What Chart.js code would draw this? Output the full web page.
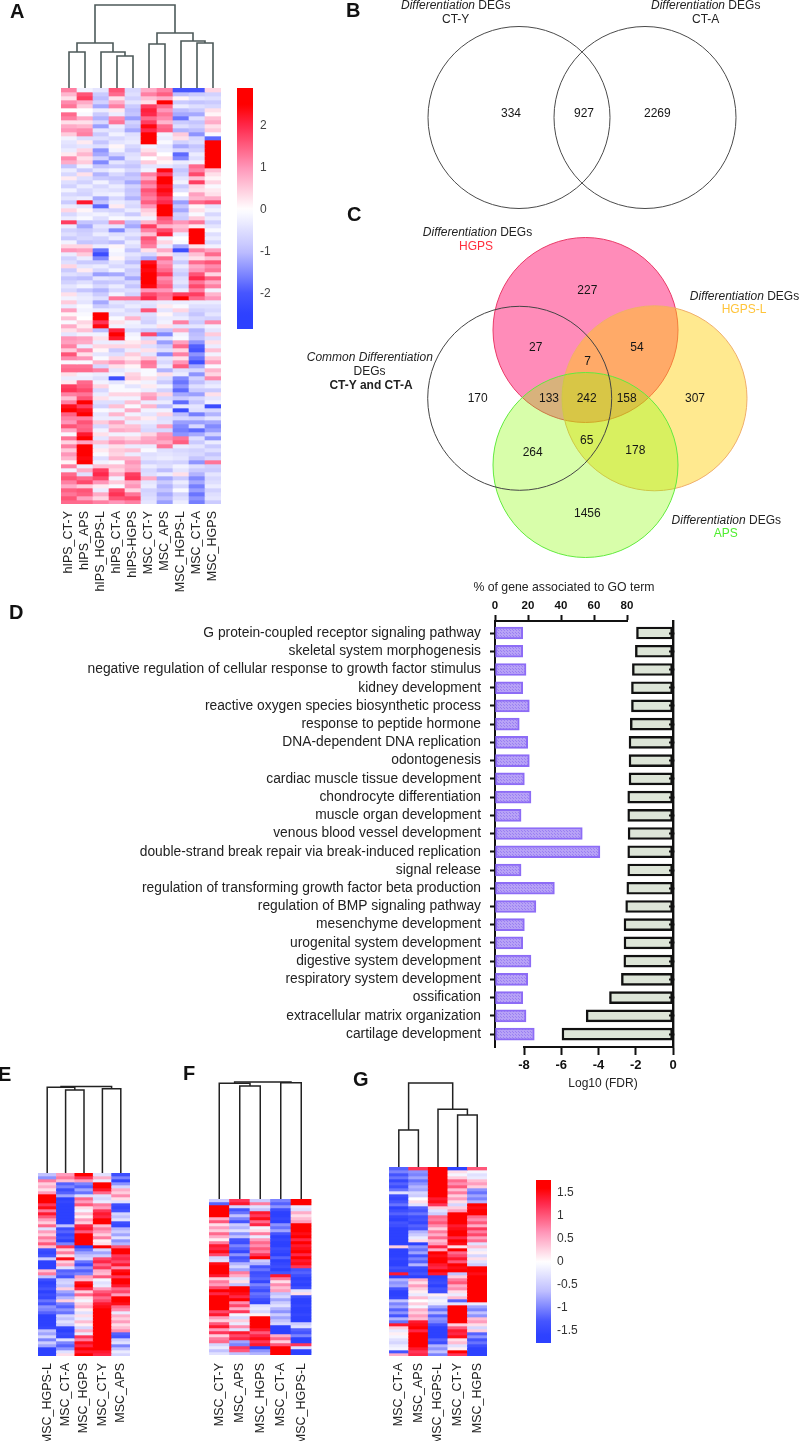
<!DOCTYPE html>
<html>
<head>
<meta charset="utf-8">
<title>Differentiation DEGs figure</title>
<script src="https://cdn.jsdelivr.net/npm/chart.js@4"></script>
<style>
  html, body { margin: 0; padding: 0; background: #fff; }
  #page { position: relative; width: 800px; height: 1441px; overflow: hidden; font-family: "Liberation Sans", Arial, sans-serif; }
  #page canvas { position: absolute; left: 0; top: 0; }
  .note { position: absolute; transform: translate(-50%, -50%); white-space: nowrap; line-height: 1; font-size: 12px; color: #222; z-index: 5; }
  .panel { position: absolute; font-weight: bold; font-size: 20px; line-height: 1; color: #111; z-index: 5; }
</style>
</head>
<body>
<div id="page"></div>
<script>
'use strict';

//****************************************
//          DATA: HEATMAP A (value x 10)
//****************************************

const labelsA = ['hIPS_CT-Y', 'hIPS_APS', 'hIPS_HGPS-L', 'hIPS_CT-A', 'hIPS-HGPS', 'MSC_CT-Y', 'MSC_APS', 'MSC_HGPS-L', 'MSC_CT-A', 'MSC_HGPS'];

const a_hIPS_CTY = [
  12,7,3,11,13,0,14,12,3,8,10,5,-2,
  -4,-5,-3,2,11,8,-9,-3,-6,2,-5,-7,-2,
  -6,-4,-8,-3,4,-6,-3,18,-3,-7,-5,-8,-2,
  4,10,-3,-7,-5,4,-8,-5,-9,-7,-4,-6,3,
  -2,5,-3,9,1,6,-1,8,3,-4,10,9,12,
  5,16,11,-1,13,14,3,-3,2,18,19,12,6,
  12,23,26,15,12,10,16,8,-1,13,4,12,5,
  10,7,1,12,-2,14,16,12,8,15,13,16,14];
const a_hIPS_APS = [
  -2,16,18,8,5,0,-1,8,3,7,11,12,-5,
  2,-4,4,7,3,5,-2,-8,3,-5,-7,-3,-6,
  -7,-3,22,-4,1,-3,-1,-9,-12,-8,-7,-6,-9,
  4,9,5,-3,-8,-4,2,-6,-10,-5,-2,-9,-4,
  -3,-4,-1,-2,-1,0,4,2,6,-2,9,8,-3,
  11,3,10,-1,13,14,-2,-3,14,15,17,13,16,
  27,18,23,26,12,16,14,15,22,25,9,26,28,
  26,24,27,-3,8,-5,14,17,5,16,15,9,14];
const a_hIPS_HGPSL = [
  -4,-8,-10,-7,-12,-3,-8,-11,-6,-13,-4,-8,-5,
  -9,-5,-14,-12,-7,-15,-9,-4,-11,-8,-2,-6,-4,
  -3,-12,-9,-18,-6,-2,-5,-8,-4,-6,-3,-7,-8,
  -3,-17,-22,-15,-8,-3,-6,-13,-4,-9,-6,-11,-8,
  -5,-12,-8,-3,29,29,19,24,-10,-2,3,-3,4,
  1,-4,-1,7,-6,12,-3,-5,-2,4,-6,-3,3,
  -5,-7,-1,-4,-3,5,-6,-2,3,-4,6,-3,2,
  -1,-5,-2,6,18,20,17,10,2,-3,8,4,12];
const a_hIPS_CTA = [
  16,14,3,8,12,2,-3,11,13,-3,-5,-2,-6,
  -4,1,-2,-7,-13,-4,-8,-2,-6,-9,-7,-3,-5,
  -2,-6,-3,2,-7,-4,-1,12,-4,-15,-5,-3,-10,
  1,-1,-2,1,-4,-6,-2,-12,-5,-8,-3,-6,-2,
  13,-4,-6,-3,-5,-1,3,-2,21,25,22,-3,4,
  -8,-5,4,10,3,-4,-2,-22,-4,-1,-1,4,-2,
  -5,6,-2,7,-3,9,5,8,-2,6,10,3,5,
  4,7,-1,6,4,8,-2,5,-1,17,19,16,10];
const a_hIPS_HGPS = [
  -6,-5,-7,-4,-8,-10,-9,-13,-7,-9,-12,-5,-4,
  -3,-6,-8,-5,-4,-7,-9,-6,-10,-8,-12,-7,-9,
  -8,-11,-5,-6,-3,-8,-2,-10,-12,-6,-4,-7,-3,
  -5,-9,-4,-6,-10,-5,-8,-7,-12,-6,-9,-5,-7,
  13,-5,-3,-6,-4,7,-2,-3,-6,-2,-1,2,4,
  -3,5,2,6,1,-2,4,5,1,-4,-1,4,-2,
  6,-1,8,-2,5,-3,6,7,-2,4,8,-3,6,
  -3,7,10,8,9,18,19,8,10,4,13,17,12];
const a_MSC_CTY = [
  8,12,6,3,18,21,20,14,18,24,20,26,28,
  29,-2,3,6,0,5,-4,-2,12,8,14,11,16,
  14,12,15,10,5,3,-2,7,18,12,6,16,14,
  12,3,-6,-12,23,26,24,25,28,27,24,10,17,
  20,-4,-5,16,-5,-6,-7,-3,-8,17,-6,4,-5,
  3,-4,6,13,12,-1,-1,3,-2,2,-3,8,10,
  -3,7,-2,-4,2,-3,-5,-6,4,8,9,-3,-1,
  -5,-4,-7,-3,-6,-5,8,-4,-3,-7,-6,-5,-4];
const a_MSC_APS = [
  12,15,8,25,14,10,13,11,7,14,15,-2,-3,
  -1,-4,-3,0,3,1,-4,24,18,25,26,22,24,
  22,18,20,29,29,29,16,14,7,17,21,-2,4,
  -3,8,3,14,10,12,14,18,11,13,15,10,14,
  13,-3,2,-4,1,-3,-2,3,-9,-15,-4,-13,-8,
  -5,-15,-4,-6,-3,-11,3,-5,-8,-2,-7,4,-6,
  -3,-10,-2,4,-5,-4,9,-6,10,11,8,13,-5,
  -4,-3,-6,-5,-10,-3,-12,-8,-11,-9,-12,-10,-13];
const a_MSC_HGPSL = [
  -20,-10,1,-8,-3,-10,-12,-17,-8,-5,-11,5,3,
  -7,-12,-6,-18,-15,-3,-6,-9,-7,-4,-2,-8,-5,
  0,-5,-13,-9,-12,-7,-8,10,6,8,-3,0,-1,
  -12,-22,-6,-4,-8,-3,-6,-8,-5,-4,-7,-3,18,
  25,-3,-1,4,-5,-3,12,-4,8,-2,-1,9,14,
  4,12,3,10,15,-5,-3,-15,-17,-14,-18,-12,-8,
  -18,-4,-22,-10,-6,-13,-15,-16,-14,13,15,-3,-6,
  -5,-4,-7,-2,-4,3,-8,-3,-6,-1,-7,-5,-3];
const a_MSC_CTA = [
  -20,-8,-4,-9,-5,-8,-12,-5,-9,-7,-10,-14,-6,
  -5,-9,-7,-3,-5,-2,14,12,17,6,18,4,3,
  9,7,14,1,3,-1,5,13,2,29,29,29,29,
  3,12,6,3,14,8,10,16,20,13,17,12,18,
  14,-3,-5,-7,-9,-6,-8,-4,-11,-10,-9,-14,-19,
  -20,-14,-17,-21,-12,-6,-14,-7,-10,-5,-8,-13,-6,
  -9,-4,-5,-16,-7,-13,-6,-18,-12,-5,-8,-4,-7,
  -6,-9,-14,-5,-8,-11,-15,-12,-16,-13,-17,-14,-16];
const a_MSC_HGPS = [
  4,-7,-5,-8,-6,3,1,6,8,3,5,-1,-18,
  29,29,28,29,27,29,28,6,3,1,4,-1,2,
  3,8,16,-4,-2,-6,-3,-7,-4,-1,-5,-3,-6,
  -2,9,14,6,16,11,13,4,15,8,12,-2,7,
  10,-3,-5,-6,-4,-7,11,-2,-4,5,-5,3,-3,
  6,-2,5,9,-1,7,4,11,-5,-3,-8,3,-4,
  -2,-22,-6,-11,-4,-12,-15,-13,-7,-14,-3,-8,-5,
  -9,-6,13,-7,-8,-4,-6,-5,-3,-7,-5,-4,-8];

//****************************************
//          DATA: HEATMAP E
//****************************************

const labelsE = ['MSC_HGPS-L', 'MSC_CT-A', 'MSC_HGPS', 'MSC_CT-Y', 'MSC_APS'];

const e_HGPSL = [
  -6,-9,8,3,5,2,6,18,18,18,
  12,15,8,14,10,6,3,9,-3,6,
  3,8,5,10,4,-14,-15,-13,-5,-16,
  -17,-16,4,8,-6,-14,-16,-15,-13,-16,
  -14,-15,-11,-13,-9,-10,-12,-17,-17,-18,
  -16,-15,-6,-8,-4,-10,-5,-8,-17,-16,-17];
const e_CTA = [
  6,8,4,-12,-10,-14,-12,-8,-16,-15,
  -17,-18,-17,-18,-16,-17,-18,-6,-14,-12,
  -15,-13,-16,-10,12,3,8,2,15,3,
  6,-3,-12,-11,-13,-5,-4,-6,3,-8,
  -10,-7,3,-10,-12,-9,-11,-4,-6,-3,
  -5,-15,-16,-14,-15,-3,-10,-12,-9,-3,2];
const e_HGPS = [
  18,12,6,-10,-12,-8,-11,-3,9,6,
  10,2,-1,4,1,6,3,13,14,10,
  18,17,16,18,-16,-11,-8,-6,-4,-11,
  -14,-9,-12,-10,6,4,15,17,13,3,
  9,2,-1,3,5,1,-3,2,-2,4,
  1,-4,5,-2,12,8,15,13,16,14,17];
const e_CTY = [
  -3,5,-2,18,17,14,9,-3,-4,-2,
  8,6,12,14,13,16,18,4,8,6,
  3,8,1,2,18,-4,-8,-5,11,13,
  9,12,5,4,10,-1,-3,-2,6,10,
  12,9,11,14,15,18,18,17,18,18,
  18,17,18,18,17,18,18,18,16,14,13];
const e_APS = [
  -14,-10,-15,-9,-4,5,3,7,2,-3,
  -14,-15,-13,-4,-6,-3,-14,-15,-7,-5,
  -8,-3,-9,-7,10,18,18,12,13,11,
  14,7,15,17,12,16,18,14,9,11,
  6,16,17,15,9,7,-2,5,3,6,
  2,4,7,-12,-13,-5,-3,-10,-6,-2,-4];

//****************************************
//          DATA: HEATMAP F
//****************************************

const labelsF = ['MSC_CT-Y', 'MSC_APS', 'MSC_HGPS', 'MSC_CT-A', 'MSC_HGPS-L'];

const f_CTY = [
  -5,-12,18,18,17,18,5,10,2,6,
  3,9,5,1,8,14,13,15,11,-4,
  -3,15,17,18,16,14,3,8,6,11,
  17,13,18,16,18,18,17,11,14,6,
  3,10,14,6,12,3,8,9,-4,-2,-6,-3];
const f_APS = [
  12,14,-4,-13,-11,-6,-10,-13,-5,-7,
  -3,-9,-6,-13,-14,-10,-12,-15,-9,-13,
  -12,-7,-4,-8,8,5,-3,2,-6,18,
  18,15,13,16,7,11,5,12,-1,-4,
  3,-2,7,-3,14,11,13,-8,-10,12,10,-6];
const f_HGPS = [
  -5,8,-3,-6,14,12,15,9,13,-1,
  2,8,-2,6,9,7,10,8,12,17,
  -5,-7,-13,-11,-14,-13,-12,-15,-10,-12,
  -14,-11,-12,-14,-15,-3,-2,-4,1,18,
  18,18,17,14,10,13,15,12,14,-20,-9,-7];
const f_CTA = [
  -10,-12,-9,-14,-17,-16,-15,-17,-9,-11,
  -8,-13,-16,-15,-17,-16,-14,-15,-16,-12,
  -17,-15,-14,-16,-13,14,8,2,7,4,
  6,-6,-4,-8,-5,-3,-7,-9,-5,-8,
  -6,-4,-18,-17,-16,5,9,3,10,16,18,17];
const f_HGPSL = [
  18,16,-2,-3,5,2,4,6,18,18,
  18,15,16,13,16,14,15,17,13,16,
  14,15,12,-13,-12,-14,-16,-15,-18,-14,
  -3,2,-14,-17,-16,-15,-17,-16,-15,-17,
  -16,-5,-3,-12,-13,-10,-20,-20,12,-3,-18,-17];

//****************************************
//          DATA: HEATMAP G
//****************************************

const labelsG = ['MSC_CT-A', 'MSC_APS', 'MSC_HGPS-L', 'MSC_CT-Y', 'MSC_HGPS'];

const g_CTA = [
  -12,-10,-13,-11,-15,-12,-14,-11,-3,-14,
  -15,-13,-11,-16,-14,-12,-15,-16,-13,-14,
  -16,-17,-16,-17,-16,-17,3,-17,-16,-17,
  -15,-17,-16,-13,-15,14,-16,-7,-9,-8,
  -13,-16,-17,-15,-6,-10,-8,-12,-9,-13,
  -7,-11,14,3,-2,1,-1,-3,-4,-2,-1,-13,5];
const g_APS = [
  12,-9,-10,-8,-11,-9,-7,-8,-4,-5,
  0,2,-3,-12,-13,-11,-14,-13,-15,-12,
  -13,-7,-5,-2,2,-16,-9,-11,-8,-13,
  -10,-12,-7,-14,-15,-13,-16,5,2,6,
  3,1,-2,4,0,3,-1,5,3,6,
  4,14,15,18,13,18,18,18,18,18,14,12,13];
const g_HGPSL = [
  18,18,17,18,16,18,18,18,18,17,
  14,15,12,3,-3,-5,9,8,10,7,
  3,8,5,9,4,6,13,5,16,15,
  17,18,14,13,16,14,-16,-15,-14,-16,
  -13,-14,1,-3,-1,-2,-8,-11,-7,-12,
  -9,-10,-13,-16,-17,-18,-16,-12,-14,-7,-9,-6,-10];
const g_CTY = [
  -18,2,-1,3,9,7,10,4,8,3,
  6,2,-4,3,6,18,18,17,16,14,
  15,17,16,13,18,15,2,17,9,11,
  14,10,16,15,17,-6,3,8,10,5,
  7,2,-2,4,-12,-3,18,18,18,18,
  18,18,3,10,14,13,15,2,4,-3,1,17,12];
const g_HGPS = [
  10,-1,-3,-2,4,6,3,-9,-11,-8,
  -10,-7,16,15,18,17,9,7,10,5,
  12,8,11,6,9,-3,4,-2,1,-4,
  2,-3,-5,16,17,15,18,18,18,18,
  18,18,18,17,18,-2,-8,-10,-6,-9,
  4,6,2,-4,3,-12,-9,-13,-11,-14,-16,-17,-16];

//****************************************
//          DATA: DENDROGRAMS
//****************************************
// each merge: [left x, left height, right x, right height, merge height]

const dendroA = [[0.5,0,1.5,0,36],[3.5,0,4.5,0,32],[2.5,0,4,32,36],[1,36,3.25,36,45],[5.5,0,6.5,0,44],[8.5,0,9.5,0,45],[7.5,0,9,45,47],[6,44,8.25,47,55],[2.125,45,7.125,55,83]];
const dendroE = [[1.5,0,2.5,0,83],[3.5,0,4.5,0,84.3],[0.5,0,2,83,85.7],[1.25,85.7,4,84.3,86.5]];
const dendroF = [[1.5,0,2.5,0,113],[0.5,0,2,113,115.7],[3.5,0,4.5,0,116.3],[1.25,115.7,4,116.3,117]];
const dendroG = [[0.5,0,1.5,0,37],[3.5,0,4.5,0,52],[2.5,0,4,52,57.7],[1,37,3.25,57.7,84]];

//****************************************
//          DATA: VENN B AND C
//****************************************

const vennBCentreX = [519, 645];
const vennBCentreY = [117.5, 117.5];
const vennBRadius = [91, 91];
const vennBCounts = ['334', '927', '2269'];
const vennBCountX = [511, 584, 657.3];
const vennBCountY = [113.7, 113.7, 113.7];

const vennCCentreX = [585.5, 654.5, 585.5, 519.7];
const vennCCentreY = [330, 398.3, 465, 398.3];
const vennCRadius = [92.5, 92.5, 92.5, 92];
const vennCFill = ['rgba(255,0,100,0.45)', 'rgba(255,207,6,0.45)', 'rgba(138,252,0,0.333)', 'rgba(0,0,0,0)'];
const vennCLine = ['#e93a68', '#efae6a', '#62ea3e', '#444444'];
const vennCCounts = ['227', '27', '54', '7', '133', '242', '158', '170', '307', '65', '264', '178', '1456'];
const vennCCountX = [587.3, 535.7, 637, 587.7, 549, 586.7, 626.7, 477.7, 695, 586.7, 532.7, 635.3, 587.3];
const vennCCountY = [290.7, 348, 348, 361.7, 399, 399, 399, 399, 399, 440.7, 452.7, 450.3, 513.3];

//****************************************
//          DATA: GO TERMS (D)
//****************************************

const goTerms = [
  'G protein-coupled receptor signaling pathway',
  'skeletal system morphogenesis',
  'negative regulation of cellular response to growth factor stimulus',
  'kidney development',
  'reactive oxygen species biosynthetic process',
  'response to peptide hormone',
  'DNA-dependent DNA replication',
  'odontogenesis',
  'cardiac muscle tissue development',
  'chondrocyte differentiation',
  'muscle organ development',
  'venous blood vessel development',
  'double-strand break repair via break-induced replication',
  'signal release',
  'regulation of transforming growth factor beta production',
  'regulation of BMP signaling pathway',
  'mesenchyme development',
  'urogenital system development',
  'digestive system development',
  'respiratory system development',
  'ossification',
  'extracellular matrix organization',
  'cartilage development'
];
const goPercent = [16.8, 16.8, 18.8, 16.8, 20.8, 14.7, 19.8, 20.8, 17.8, 21.8, 15.8, 52.9, 63.6, 15.8, 36, 24.8, 17.8, 16.8, 21.8, 19.8, 16.8, 18.8, 23.8];
const goLogFdr = [-1.96, -2.02, -2.18, -2.23, -2.23, -2.29, -2.36, -2.36, -2.36, -2.43, -2.43, -2.41, -2.43, -2.43, -2.48, -2.54, -2.63, -2.63, -2.64, -2.77, -3.41, -4.66, -5.96];
const percentTicks = [0, 20, 40, 60, 80];
const fdrTicks = [-8, -6, -4, -2, 0];

const colourbarTicksA = [-2, -1, 0, 1, 2];
const colourbarTicksG = [-1.5, -1, -0.5, 0, 0.5, 1, 1.5];

//****************************************
//            HELPER FUNCTIONS
//****************************************

const PAGE_W = 800;
const PAGE_H = 1441;
const page = document.getElementById('page');
const NARROW = '"Liberation Sans Narrow", "Liberation Sans", Arial, sans-serif';

Chart.defaults.font.family = '"Liberation Sans", Arial, sans-serif';
Chart.defaults.animation = false;
Chart.defaults.responsive = false;
Chart.defaults.events = [];
Chart.defaults.plugins.legend.display = false;
Chart.defaults.plugins.tooltip.enabled = false;

function addCanvas() {
  const c = document.createElement('canvas');
  c.width = PAGE_W;
  c.height = PAGE_H;
  page.appendChild(c);
  return c;
}

// every chart is on a page sized canvas, padding puts the plot area in place
function paddingFor(rect, bands) {
  const b = bands || {};
  return {
    left: rect.x0 - (b.left || 0),
    top: rect.y0 - (b.top || 0),
    right: PAGE_W - rect.x1 - (b.right || 0),
    bottom: PAGE_H - rect.y1 - (b.bottom || 0)
  };
}

function mix(a, b, t) {
  return [0, 1, 2].map(i => Math.round(a[i] + (b[i] - a[i]) * t));
}

const redStops = [[0, [255, 255, 255]], [0.4, [255, 150, 185]], [0.8, [255, 40, 75]], [1, [255, 0, 0]]];
const blueStops = [[0, [255, 255, 255]], [0.4, [190, 190, 255]], [0.8, [70, 85, 255]], [1, [45, 65, 255]]];

function heatColour(v, vmax) {
  const stops = v >= 0 ? redStops : blueStops;
  const t = Math.min(1, Math.abs(v) / vmax);
  for (let i = 1; i < stops.length; i++) {
    if (t <= stops[i][0]) {
      const c = mix(stops[i - 1][1], stops[i][1], (t - stops[i - 1][0]) / (stops[i][0] - stops[i - 1][0]));
      return 'rgb(' + c.join(',') + ')';
    }
  }
  return 'rgb(255,0,0)';
}

function drawHeatmap(labels, columns, rect, vmax, labelPad) {
  const rows = columns[0].length;
  const datasets = [];
  for (let r = 0; r < rows; r++) {
    datasets.push({
      data: columns.map(() => 1),
      backgroundColor: columns.map(col => heatColour(col[r] / 10, vmax)),
      borderWidth: 0,
      barPercentage: 1,
      categoryPercentage: 1
    });
  }
  const band = Math.min(100, PAGE_H - rect.y1);
  new Chart(addCanvas(), {
    type: 'bar',
    data: { labels: labels, datasets: datasets },
    options: {
      layout: { padding: paddingFor(rect, { bottom: band }) },
      scales: {
        x: {
          stacked: true,
          grid: { display: false, drawTicks: false },
          border: { display: false },
          afterFit: s => { s.height = band; },
          ticks: { autoSkip: false, minRotation: 90, maxRotation: 90, padding: labelPad, color: '#222', font: { size: 12.5 } }
        },
        y: { stacked: true, display: false, min: 0, max: rows, reverse: true }
      }
    }
  });
}

function drawDendrogram(merges, rect, columns, maxH, colour, width) {
  const datasets = merges.map(m => ({
    data: [{ x: m[0], y: m[1] }, { x: m[0], y: m[4] }, { x: m[2], y: m[4] }, { x: m[2], y: m[3] }],
    showLine: true,
    pointRadius: 0,
    borderColor: colour,
    borderWidth: width,
    tension: 0,
    clip: false
  }));
  new Chart(addCanvas(), {
    type: 'scatter',
    data: { datasets: datasets },
    options: {
      layout: { padding: paddingFor(rect) },
      scales: {
        x: { display: false, min: 0, max: columns },
        y: { display: false, min: 0, max: maxH }
      }
    }
  });
}

function drawColourbar(rect, low, high, vmax, ticks, tickColour, pad) {
  const gradientFill = ctx => {
    const area = ctx.chart.chartArea;
    if (!area) return '#fff';
    const g = ctx.chart.ctx.createLinearGradient(0, area.top, 0, area.bottom);
    const n = 60;
    for (let i = 0; i <= n; i++) {
      const v = high + (low - high) * i / n;
      g.addColorStop(i / n, heatColour(v, vmax));
    }
    return g;
  };
  new Chart(addCanvas(), {
    type: 'bar',
    data: {
      labels: ['scale'],
      datasets: [{ data: [[low, high]], backgroundColor: gradientFill, borderWidth: 0, barPercentage: 1, categoryPercentage: 1 }]
    },
    options: {
      layout: { padding: paddingFor(rect, { right: 50 }) },
      scales: {
        x: { display: false },
        y: {
          position: 'right',
          min: low,
          max: high,
          grid: { display: false, drawTicks: false },
          border: { display: false },
          afterFit: s => { s.width = 50; },
          afterBuildTicks: s => { s.ticks = ticks.map(v => ({ value: v })); },
          ticks: { padding: pad, color: tickColour, font: { size: 12 }, callback: v => String(v) }
        }
      }
    }
  });
}

// bubble charts reserve their radius as padding, so the plot area stays inside
// the page and the scales keep one unit per pixel
const vennRect = { x0: 100, x1: 700, y0: 100, y1: 1300 };

function drawVenn(cx, cy, radius, fills, lines, counts, countX, countY) {
  const rect = vennRect;
  const countPlugin = {
    id: 'vennCounts',
    afterDatasetsDraw(chart) {
      const ctx = chart.ctx;
      ctx.save();
      ctx.fillStyle = '#151515';
      ctx.font = '12px "Liberation Sans", Arial, sans-serif';
      ctx.textAlign = 'center';
      ctx.textBaseline = 'middle';
      counts.forEach((t, i) => {
        ctx.fillText(t, chart.scales.x.getPixelForValue(countX[i]), chart.scales.y.getPixelForValue(countY[i]));
      });
      ctx.restore();
    }
  };
  const datasets = cx.map((x, i) => ({
    data: [{ x: x, y: cy[i], r: radius[i] }],
    backgroundColor: fills[i],
    borderColor: lines[i],
    borderWidth: 1,
    clip: false,
    order: cx.length - i
  }));
  new Chart(addCanvas(), {
    type: 'bubble',
    data: { datasets: datasets },
    options: {
      layout: { padding: paddingFor(rect) },
      scales: {
        x: { display: false, min: rect.x0, max: rect.x1 },
        y: { display: false, min: rect.y0, max: rect.y1, reverse: true }
      }
    },
    plugins: [countPlugin]
  });
}

function addNote(html, x, y, style) {
  const d = document.createElement('div');
  d.className = 'note';
  d.innerHTML = html;
  d.style.left = x + 'px';
  d.style.top = y + 'px';
  if (style) d.style.cssText += style;
  page.appendChild(d);
}

function addPanel(letter, x, y) {
  const d = document.createElement('div');
  d.className = 'panel';
  d.textContent = letter;
  d.style.left = x + 'px';
  d.style.top = y + 'px';
  page.appendChild(d);
}

function dotPattern() {
  const p = document.createElement('canvas');
  p.width = 3;
  p.height = 3;
  const c = p.getContext('2d');
  c.fillStyle = '#b7a2f6';
  c.fillRect(0, 0, 3, 3);
  c.fillStyle = '#9a7ff2';
  c.fillRect(0, 0, 1, 1);
  c.fillRect(2, 2, 1, 1);
  return c.createPattern(p, 'repeat');
}

//****************************************
//            PANEL A
//****************************************

drawHeatmap(labelsA, [a_hIPS_CTY, a_hIPS_APS, a_hIPS_HGPSL, a_hIPS_CTA, a_hIPS_HGPS, a_MSC_CTY, a_MSC_APS, a_MSC_HGPSL, a_MSC_CTA, a_MSC_HGPS],
  { x0: 61, x1: 221, y0: 88, y1: 504 }, 2.5, 7);
drawDendrogram(dendroA, { x0: 61, x1: 221, y0: 0, y1: 88 }, 10, 88, '#4d5a5a', 1.6);
drawColourbar({ x0: 237, x1: 253, y0: 88, y1: 329 }, -2.85, 2.9, 2.5, colourbarTicksA, '#444', 7);

//****************************************
//            PANELS B AND C
//****************************************

drawVenn(vennBCentreX, vennBCentreY, vennBRadius,
  ['rgba(0,0,0,0)', 'rgba(0,0,0,0)'], ['#4a4a4a', '#4a4a4a'], vennBCounts, vennBCountX, vennBCountY);
drawVenn(vennCCentreX, vennCCentreY, vennCRadius,
  vennCFill, vennCLine, vennCCounts, vennCCountX, vennCCountY);

//****************************************
//            PANEL D
//****************************************

const goIndex = goTerms.map((t, i) => i);
const goYMin = -0.66;
const goYMax = 22.71;

new Chart(addCanvas(), {
  type: 'bar',
  data: {
    labels: goTerms,
    datasets: [{
      data: goIndex.map(i => ({ x: goPercent[i], y: i })),
      backgroundColor: dotPattern(),
      borderColor: '#8d6cf6',
      borderWidth: 2,
      borderSkipped: false,
      barThickness: 12
    }]
  },
  options: {
    indexAxis: 'y',
    layout: { padding: paddingFor({ x0: 495, x1: 627, y0: 621, y1: 1047 }, { left: 430, top: 36 }) },
    scales: {
      x: {
        position: 'top',
        min: 0,
        max: 80,
        afterFit: s => { s.height = 36; },
        afterBuildTicks: s => { s.ticks = percentTicks.map(v => ({ value: v })); },
        grid: { drawOnChartArea: false, tickLength: 6, tickColor: '#111', tickWidth: 2 },
        border: { color: '#111', width: 2 },
        ticks: { padding: 2, color: '#111', font: { family: NARROW, size: 11.5, weight: 'bold' } }
      },
      y: {
        type: 'linear',
        reverse: true,
        offset: false,
        min: goYMin,
        max: goYMax,
        afterFit: s => { s.width = 430; },
        afterBuildTicks: s => { s.ticks = goIndex.map(v => ({ value: v })); },
        grid: { offset: false, drawOnChartArea: false, tickLength: 5, tickColor: '#111', tickWidth: 2 },
        border: { color: '#111', width: 2 },
        ticks: { autoSkip: false, padding: 9, color: '#222', font: { size: 13.8 }, callback: v => goTerms[v] }
      }
    }
  }
});

new Chart(addCanvas(), {
  type: 'bar',
  data: {
    labels: goTerms,
    datasets: [{
      data: goIndex.map(i => ({ x: goLogFdr[i], y: i })),
      backgroundColor: '#dde5d8',
      borderColor: '#111',
      borderWidth: 2.4,
      borderSkipped: false,
      barThickness: 12
    }]
  },
  options: {
    indexAxis: 'y',
    layout: { padding: paddingFor({ x0: 524, x1: 673, y0: 621, y1: 1047 }, { right: 6, bottom: 30 }) },
    scales: {
      x: {
        position: 'bottom',
        min: -8,
        max: 0,
        afterFit: s => { s.height = 30; },
        afterBuildTicks: s => { s.ticks = fdrTicks.map(v => ({ value: v })); },
        grid: { drawOnChartArea: false, tickLength: 8, tickColor: '#111', tickWidth: 2 },
        border: { color: '#111', width: 2 },
        ticks: { padding: 3, color: '#111', font: { family: NARROW, size: 13, weight: 'bold' } }
      },
      y: {
        type: 'linear',
        position: 'right',
        reverse: true,
        offset: false,
        min: goYMin,
        max: goYMax,
        afterFit: s => { s.width = 6; },
        afterBuildTicks: s => { s.ticks = goIndex.map(v => ({ value: v })); },
        grid: { offset: false, z: 1, drawOnChartArea: false, tickLength: -4, tickColor: '#111', tickWidth: 2 },
        border: { z: 1, color: '#111', width: 2.4 },
        ticks: { display: false }
      }
    }
  }
});

//****************************************
//            PANELS E, F, G
//****************************************

drawHeatmap(labelsE, [e_HGPSL, e_CTA, e_HGPS, e_CTY, e_APS], { x0: 38, x1: 130, y0: 1173, y1: 1356 }, 1.6, 7);
drawDendrogram(dendroE, { x0: 38, x1: 130, y0: 1083, y1: 1173 }, 5, 90, '#222', 1.5);

drawHeatmap(labelsF, [f_CTY, f_APS, f_HGPS, f_CTA, f_HGPSL], { x0: 209, x1: 311.5, y0: 1199, y1: 1355 }, 1.6, 8);
drawDendrogram(dendroF, { x0: 209, x1: 311.5, y0: 1079, y1: 1199 }, 5, 120, '#222', 1.5);

drawHeatmap(labelsG, [g_CTA, g_APS, g_HGPSL, g_CTY, g_HGPS], { x0: 389, x1: 487, y0: 1167, y1: 1356 }, 1.6, 7);
drawDendrogram(dendroG, { x0: 389, x1: 487, y0: 1079, y1: 1167 }, 5, 88, '#222', 1.5);
drawColourbar({ x0: 536, x1: 551, y0: 1180, y1: 1343 }, -1.76, 1.78, 1.6, colourbarTicksG, '#333', 6);

//****************************************
//            TEXT NOTES
//****************************************

addPanel('A', 10, 1);
addPanel('B', 346, 0);
addPanel('C', 347, 204);
addPanel('D', 9, 602);
addPanel('E', -2, 1064);
addPanel('F', 183, 1063);
addPanel('G', 353, 1069);

const diffTitle = '<i>Differentiation</i> DEGs';
addNote(diffTitle, 455.7, 5);
addNote('CT-Y', 455.7, 18.5);
addNote(diffTitle, 705.7, 5);
addNote('CT-A', 705.7, 18.5);

addNote(diffTitle, 477.5, 232);
addNote('HGPS', 476, 245.7, 'color:#ff2d3c;');
addNote(diffTitle, 744.5, 295.7);
addNote('HGPS-L', 744, 309, 'color:#ffc43a;');
addNote(diffTitle, 726.3, 520);
addNote('APS', 725.7, 533, 'color:#4fee2f;');
addNote('<i>Common Differentiation</i>', 369.8, 356.7);
addNote('DEGs', 369.5, 370.7);
addNote('<b>CT-Y and CT-A</b>', 371, 385.3);

addNote('% of gene associated to GO term', 564, 586.7, 'font-size:12.25px;');
addNote('Log10 (FDR)', 603, 1083);
</script>
</body>
</html>
